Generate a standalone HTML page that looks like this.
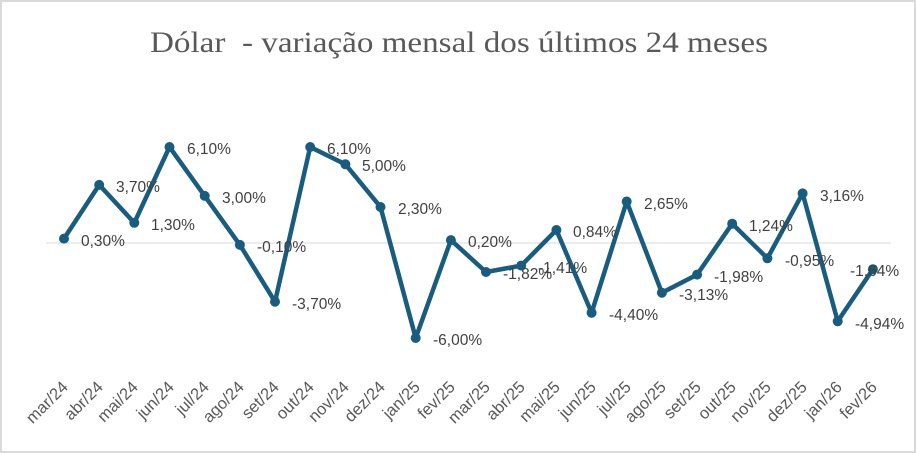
<!DOCTYPE html>
<html><head><meta charset="utf-8"><style>body{margin:0;background:#fff}svg{display:block}</style></head>
<body>
<svg width="916" height="453" xmlns="http://www.w3.org/2000/svg">
<rect x="1" y="1" width="914" height="451" fill="#fff" stroke="#d9d9d9" stroke-width="2"/>
<text x="459" y="52" text-anchor="middle" font-family="Liberation Serif, serif" font-size="30" fill="#595959" textLength="618" lengthAdjust="spacingAndGlyphs">Dólar &#160;- variação mensal dos últimos 24 meses</text>
<line x1="46" y1="243" x2="891" y2="243" stroke="#d9d9d9" stroke-width="1"/>
<polyline fill="none" stroke="#1a5c7d" stroke-width="4.5" stroke-linejoin="round" points="64,238.6 99.2,184.9 134.3,222.8 169.5,147 204.7,195.9 239.9,244.9 275,301.7 310.2,147 345.4,164.3 380.5,207 415.7,338 450.9,240.1 486,272 521.2,265.6 556.4,230 591.6,312.8 626.7,201.5 661.9,292.7 697.1,274.6 732.2,223.7 767.4,258.3 802.6,193.4 837.7,321.3 872.9,269.2"/>
<g fill="#1a5c7d">
<circle cx="64" cy="238.6" r="5"/><circle cx="99.2" cy="184.9" r="5"/><circle cx="134.3" cy="222.8" r="5"/><circle cx="169.5" cy="147" r="5"/><circle cx="204.7" cy="195.9" r="5"/><circle cx="239.9" cy="244.9" r="5"/><circle cx="275" cy="301.7" r="5"/><circle cx="310.2" cy="147" r="5"/><circle cx="345.4" cy="164.3" r="5"/><circle cx="380.5" cy="207" r="5"/><circle cx="415.7" cy="338" r="5"/><circle cx="450.9" cy="240.1" r="5"/><circle cx="486" cy="272" r="5"/><circle cx="521.2" cy="265.6" r="5"/><circle cx="556.4" cy="230" r="5"/><circle cx="591.6" cy="312.8" r="5"/><circle cx="626.7" cy="201.5" r="5"/><circle cx="661.9" cy="292.7" r="5"/><circle cx="697.1" cy="274.6" r="5"/><circle cx="732.2" cy="223.7" r="5"/><circle cx="767.4" cy="258.3" r="5"/><circle cx="802.6" cy="193.4" r="5"/><circle cx="837.7" cy="321.3" r="5"/><circle cx="872.9" cy="269.2" r="5"/>
</g>
<g font-family="Liberation Sans, sans-serif" font-size="15.5" fill="#404040">
<text x="81" y="246">0,30%</text>
<text x="116" y="192">3,70%</text>
<text x="151" y="230">1,30%</text>
<text x="187" y="154">6,10%</text>
<text x="222" y="203">3,00%</text>
<text x="257" y="252">-0,10%</text>
<text x="292" y="309">-3,70%</text>
<text x="327" y="154">6,10%</text>
<text x="362" y="171">5,00%</text>
<text x="398" y="214">2,30%</text>
<text x="433" y="345">-6,00%</text>
<text x="468" y="247">0,20%</text>
<text x="503" y="279">-1,82%</text>
<text x="538" y="273">-1,41%</text>
<text x="573" y="237">0,84%</text>
<text x="609" y="320">-4,40%</text>
<text x="644" y="209">2,65%</text>
<text x="679" y="300">-3,13%</text>
<text x="714" y="282">-1,98%</text>
<text x="749" y="231">1,24%</text>
<text x="785" y="266">-0,95%</text>
<text x="820" y="201">3,16%</text>
<text x="855" y="329">-4,94%</text>
<text x="850" y="276">-1,64%</text>
</g>
<g font-family="Liberation Sans, sans-serif" font-size="16.5" fill="#595959" text-anchor="end">
<text transform="translate(69,388) rotate(-45)">mar/24</text>
<text transform="translate(104,388) rotate(-45)">abr/24</text>
<text transform="translate(139,388) rotate(-45)">mai/24</text>
<text transform="translate(175,388) rotate(-45)">jun/24</text>
<text transform="translate(210,388) rotate(-45)">jul/24</text>
<text transform="translate(245,388) rotate(-45)">ago/24</text>
<text transform="translate(280,388) rotate(-45)">set/24</text>
<text transform="translate(315,388) rotate(-45)">out/24</text>
<text transform="translate(350,388) rotate(-45)">nov/24</text>
<text transform="translate(386,388) rotate(-45)">dez/24</text>
<text transform="translate(421,388) rotate(-45)">jan/25</text>
<text transform="translate(456,388) rotate(-45)">fev/25</text>
<text transform="translate(491,388) rotate(-45)">mar/25</text>
<text transform="translate(526,388) rotate(-45)">abr/25</text>
<text transform="translate(561,388) rotate(-45)">mai/25</text>
<text transform="translate(597,388) rotate(-45)">jun/25</text>
<text transform="translate(632,388) rotate(-45)">jul/25</text>
<text transform="translate(667,388) rotate(-45)">ago/25</text>
<text transform="translate(702,388) rotate(-45)">set/25</text>
<text transform="translate(737,388) rotate(-45)">out/25</text>
<text transform="translate(772,388) rotate(-45)">nov/25</text>
<text transform="translate(808,388) rotate(-45)">dez/25</text>
<text transform="translate(843,388) rotate(-45)">jan/26</text>
<text transform="translate(878,388) rotate(-45)">fev/26</text>
</g>
</svg>
</body></html>
